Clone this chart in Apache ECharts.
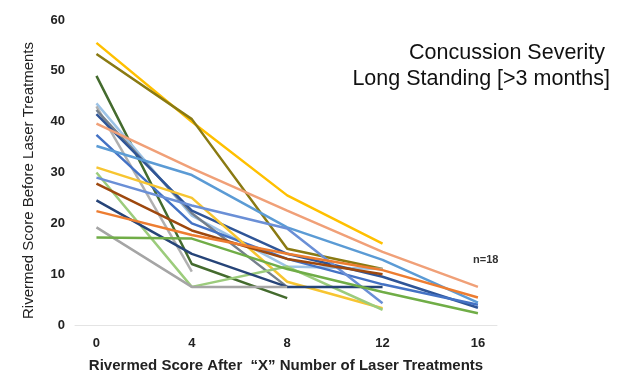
<!DOCTYPE html>
<html><head><meta charset="utf-8">
<script src="https://cdn.jsdelivr.net/npm/echarts@6/dist/echarts.min.js"></script>
<style>html,body{margin:0;padding:0;background:#fff}#c{width:623px;height:373px}</style>
</head><body><div id="c"></div>
<script>
var treatments = [0, 4, 8, 12, 16];
var xTickLabels = ['0', '4', '8', '12', '16'];
var yTickLabels = [0, 10, 20, 30, 40, 50, 60];
var p01 = [55.5, 40, 25.5, 16];
var p02 = [53.3, 40.5, 15, 11];
var p03 = [49, 12, 5.3];
var p04 = [43.6, 21.5, 11.5, 11];
var p05 = [43, 10.5];
var p06 = [42.3, 22, 7.5];
var p07 = [41.5, 22.5, 14, 9.5, 3.4];
var p08 = [39.6, 30.8, 22.5, 14.4, 7.5];
var p09 = [37.4, 20, 13, 8, 4];
var p10 = [35.2, 29.5, 19.2, 12.8, 4.4];
var p11 = [31, 25, 8.5, 3.3];
var p12 = [30, 7.5, 11.5, 3];
var p13 = [29, 23.5, 19, 4.3];
var p14 = [27.8, 18.6, 13, 10];
var p15 = [24.5, 14, 7.5, 7.5];
var p16 = [22.4, 17.7, 14, 10.8, 5.4];
var p17 = [19.2, 7.5, 7.5];
var p18 = [17.2, 17, 11, 6.5, 2.3];
var patients = [p01,p02,p03,p04,p05,p06,p07,p08,p09,p10,p11,p12,p13,p14,p15,p16,p17,p18];
var colors = ['#ffc000','#8a7a12','#446b2e','#9dc3e6','#b0b0b0','#75808c','#2f5597','#f0a078','#4472c4',
              '#5b9bd5','#f7c531','#9ccc7c','#6a8fd6','#9e480e','#264478','#ed7d31','#a5a5a5','#70ad47'];

var series = patients.map(function(vals, i){
  return {
    type: 'line', showSymbol: false, symbol: 'none', silent: true,
    lineStyle: {width: 2.5, color: colors[i]},
    data: vals.map(function(v, j){ return [treatments[j], v]; })
  };
});

var chart = echarts.init(document.getElementById('c'));
chart.setOption({
  animation: false,
  backgroundColor: '#fff',
  title: [
    {text: 'Concussion Severity', right: 13, top: 37,
     textStyle: {fontFamily: 'Liberation Sans', fontSize: 21.5, fontWeight: 'normal', color: '#111'}},
    {text: 'Long Standing [>3 months]', right: 8, top: 63,
     textStyle: {fontFamily: 'Liberation Sans', fontSize: 21.5, fontWeight: 'normal', color: '#111'}},
    {text: 'n=18', left: 468, top: 249,
     textStyle: {fontFamily: 'Liberation Sans', fontSize: 11, fontWeight: 'bold', color: '#333'}}
  ],
  grid: {left: 75, right: 126, top: 20, bottom: 48, outerBoundsMode: 'none', containLabel: false},
  xAxis: {
    type: 'value', min: -0.9, max: 16.8,
    name: 'Rivermed Score After  \u201cX\u201d Number of Laser Treatments',
    nameLocation: 'middle', nameGap: 33,
    nameTextStyle: {fontFamily: 'Liberation Sans', fontSize: 15, fontWeight: 'bold', color: '#222'},
    axisLine: {show: true, lineStyle: {color: '#e4e4e4', width: 1}},
    axisTick: {show: false},
    splitLine: {show: false},
    axisLabel: {customValues: treatments, formatter: function(v){ return xTickLabels[treatments.indexOf(v)]; },
      fontFamily: 'Liberation Sans', fontSize: 13, fontWeight: 'bold', color: '#222', margin: 12}
  },
  yAxis: {
    type: 'value', min: 0, max: 60, interval: 10,
    name: 'Rivermed Score Before Laser Treatments',
    nameLocation: 'middle', nameGap: 39, nameRotate: 90,
    nameTextStyle: {fontFamily: 'Liberation Sans', fontSize: 15, color: '#222', padding: [0, 16, 0, 0]},
    axisLine: {show: false}, axisTick: {show: false}, splitLine: {show: false},
    axisLabel: {customValues: yTickLabels, fontFamily: 'Liberation Sans', fontSize: 13, fontWeight: 'bold', color: '#222', margin: 10}
  },
  series: series
});
</script></body></html>
